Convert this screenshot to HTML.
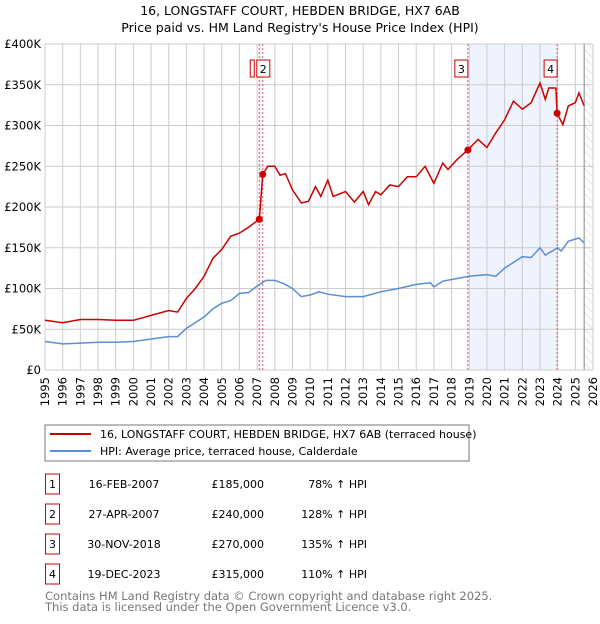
<!DOCTYPE html>
<html><head><meta charset="utf-8"><style>
body{margin:0;background:#fff;font-family:"DejaVu Sans","Liberation Sans",sans-serif;}
svg text{font-family:"DejaVu Sans","Liberation Sans",sans-serif;}
</style></head><body>
<svg id="c" width="600" height="620" xmlns="http://www.w3.org/2000/svg">
<defs><pattern id="hatch" width="6" height="6" patternUnits="userSpaceOnUse" patternTransform="rotate(-45)"><line x1="0" y1="0" x2="0" y2="6" stroke="#ccc" stroke-width="1"/></pattern></defs>
<text x="300" y="15" text-anchor="middle" font-size="12.5">16, LONGSTAFF COURT, HEBDEN BRIDGE, HX7 6AB</text>
<text x="300" y="32" text-anchor="middle" font-size="12.5">Price paid vs. HM Land Registry's House Price Index (HPI)</text>
<g id="plot"></g>
<rect x="45" y="425" width="424" height="36" fill="#fff" stroke="#777"/>
<line x1="50" y1="434" x2="91" y2="434" stroke="#cc0000" stroke-width="2"/>
<text x="100" y="438" font-size="11">16, LONGSTAFF COURT, HEBDEN BRIDGE, HX7 6AB (terraced house)</text>
<line x1="50" y1="451" x2="91" y2="451" stroke="#5b8fd4" stroke-width="2"/>
<text x="100" y="455" font-size="11">HPI: Average price, terraced house, Calderdale</text>
<g id="tbl" font-size="11"></g>
<text x="45" y="600" font-size="11.5" fill="#777">Contains HM Land Registry data © Crown copyright and database right 2025.</text>
<text x="45" y="611" font-size="11.5" fill="#777">This data is licensed under the Open Government Licence v3.0.</text>
</svg>
<script>
const hpiYears=[1995,1996,1997,1998,1999,2000,2001,2002,2002.5,2003,2004,2004.5,2005,2005.5,2006,2006.5,2007,2007.5,2008,2008.5,2009,2009.5,2010,2010.5,2011,2012,2013,2014,2015,2016,2016.8,2017,2017.5,2018,2019,2020,2020.5,2021,2022,2022.5,2023,2023.3,2024,2024.2,2024.6,2025.2,2025.5];
const hpiVals=[35,32,33,34,34,35,38,41,41,51,65,75,82,85,94,95,103,110,110,106,100,90,92,96,93,90,90,96,100,105,107,102,109,111,115,117,115,125,139,138,150,141,150,146,158,162,156];
const propYears=[1995,1996,1997,1998,1999,2000,2001,2002,2002.5,2003,2003.5,2004,2004.5,2005,2005.5,2006,2006.5,2007.12,2007.32,2007.6,2008,2008.3,2008.6,2009,2009.5,2009.9,2010.3,2010.6,2011,2011.3,2012,2012.5,2013,2013.3,2013.7,2014,2014.5,2015,2015.5,2016,2016.5,2017,2017.5,2017.8,2018.3,2018.92,2019.5,2020,2020.5,2021,2021.5,2022,2022.5,2023,2023.3,2023.5,2023.9,2023.97,2024.3,2024.6,2025,2025.2,2025.5];
const propVals=[61,58,62,62,61,61,67,73,71,88,100,115,137,148,164,168,175,185,240,250,250,239,241,221,205,207,225,213,233,213,219,206,219,203,219,215,227,225,237,237,250,229,254,246,258,270,283,273,291,307,330,320,328,352,332,346,346,315,301,324,328,340,324];
const saleYears=[2007.12,2007.32,2018.92,2023.97];
const saleVals=[185,240,270,315];
const saleLabels=["1","2","3","4"];
const saleDates=["16-FEB-2007","27-APR-2007","30-NOV-2018","19-DEC-2023"];
const salePrices=["£185,000","£240,000","£270,000","£315,000"];
const salePct=["78% ↑ HPI","128% ↑ HPI","135% ↑ HPI","110% ↑ HPI"];
const yTicks=[0,50,100,150,200,250,300,350,400];
const yTickLabels=["£0","£50K","£100K","£150K","£200K","£250K","£300K","£350K","£400K"];
const xTicks=[];for(let y=1995;y<=2026;y++)xTicks.push(y);

const X0=45,X1=593,Y0=370,Y1=44;
const xs=y=>X0+(y-1995)*(X1-X0)/31;
const ys=v=>Y0-v*(Y0-Y1)/400;
const NS="http://www.w3.org/2000/svg";
const g=document.getElementById('plot');
function mk(t,a,p){const e=document.createElementNS(NS,t);for(const k in a)e.setAttribute(k,a[k]);(p||g).appendChild(e);return e;}

let e=mk('rect',{x:xs(2018.92),y:Y1,width:xs(2023.97)-xs(2018.92),height:Y0-Y1,fill:'#eef3fd'});


e=mk('rect',{x:xs(2007.12),y:Y1,width:xs(2007.32)-xs(2007.12),height:Y0-Y1,fill:'#eef3fd'});


e=mk('rect',{x:xs(2025.5),y:Y1,width:X1-xs(2025.5),height:Y0-Y1,fill:'url(#hatch)'});



xTicks.forEach(y=>{
 const l=mk('line',{x1:xs(y),y1:Y1,x2:xs(y),y2:Y0,stroke:'#ccc','stroke-width':1});
 
 
 const t=mk('text',{x:0,y:0,'font-size':11.5,'text-anchor':'end',transform:`translate(${xs(y)+4},${Y0+7}) rotate(-90)`});
 t.textContent=y;
 
 
});
yTicks.forEach((v,i)=>{
 const l=mk('line',{x1:X0,y1:ys(v),x2:X1,y2:ys(v),stroke:'#ccc','stroke-width':1});
 
 
 const t=mk('text',{x:X0-4,y:ys(v)+4,'font-size':11.5,'text-anchor':'end'});
 t.textContent=yTickLabels[i];
 
 
});
e=mk('line',{x1:xs(2025.5),y1:Y1,x2:xs(2025.5),y2:Y0,stroke:'#888','stroke-width':1});



saleYears.forEach((y,i)=>{
 const l=mk('line',{x1:xs(y),y1:Y1,x2:xs(y),y2:Y0,stroke:'#e06060','stroke-width':1,'stroke-dasharray':'2,2'});
 
 
});

const path=(xa,va)=>xa.map((y,i)=>(i?'L':'M')+xs(y).toFixed(1)+','+ys(va[i]).toFixed(1)).join('');
e=mk('path',{d:path(hpiYears,hpiVals),fill:'none',stroke:'#5b8fd4','stroke-width':1.5});


e=mk('path',{d:path(propYears,propVals),fill:'none',stroke:'#cc0000','stroke-width':1.5});



saleYears.forEach((y,i)=>{
 const c=mk('circle',{cx:xs(y),cy:ys(saleVals[i]),r:3.5,fill:'#cc0000'});
 
 
 if(i===0)return;
 const bx=xs(y)-(i===1?6:13);
 const r=mk('rect',{x:bx,y:60,width:13,height:17,fill:'#fff',stroke:'#cc0000'});
 
 
 const t=mk('text',{x:bx+6.5,y:73,'font-size':11,'text-anchor':'middle'});
 t.textContent=saleLabels[i];
 
 
});
e=mk('rect',{x:xs(2007.12)-9,y:60,width:4,height:17,fill:'#fff',stroke:'#cc0000'});



const tb=document.getElementById('tbl');
saleDates.forEach((d,i)=>{
 const cy=483+i*30;
 const r=mk('rect',{x:45.5,y:cy-9,width:14,height:20,fill:'#fff',stroke:'#cc0000'},tb);
 
 
 let t=mk('text',{x:52.5,y:cy+5,'text-anchor':'middle'},tb);t.textContent=saleLabels[i];
 
 
 t=mk('text',{x:124,y:cy+5,'text-anchor':'middle'},tb);t.textContent=d;
 
 
 t=mk('text',{x:264,y:cy+5,'text-anchor':'end'},tb);t.textContent=salePrices[i];
 
 
 t=mk('text',{x:367,y:cy+5,'text-anchor':'end'},tb);t.textContent=salePct[i];
 
 
});
</script>
</body></html>
